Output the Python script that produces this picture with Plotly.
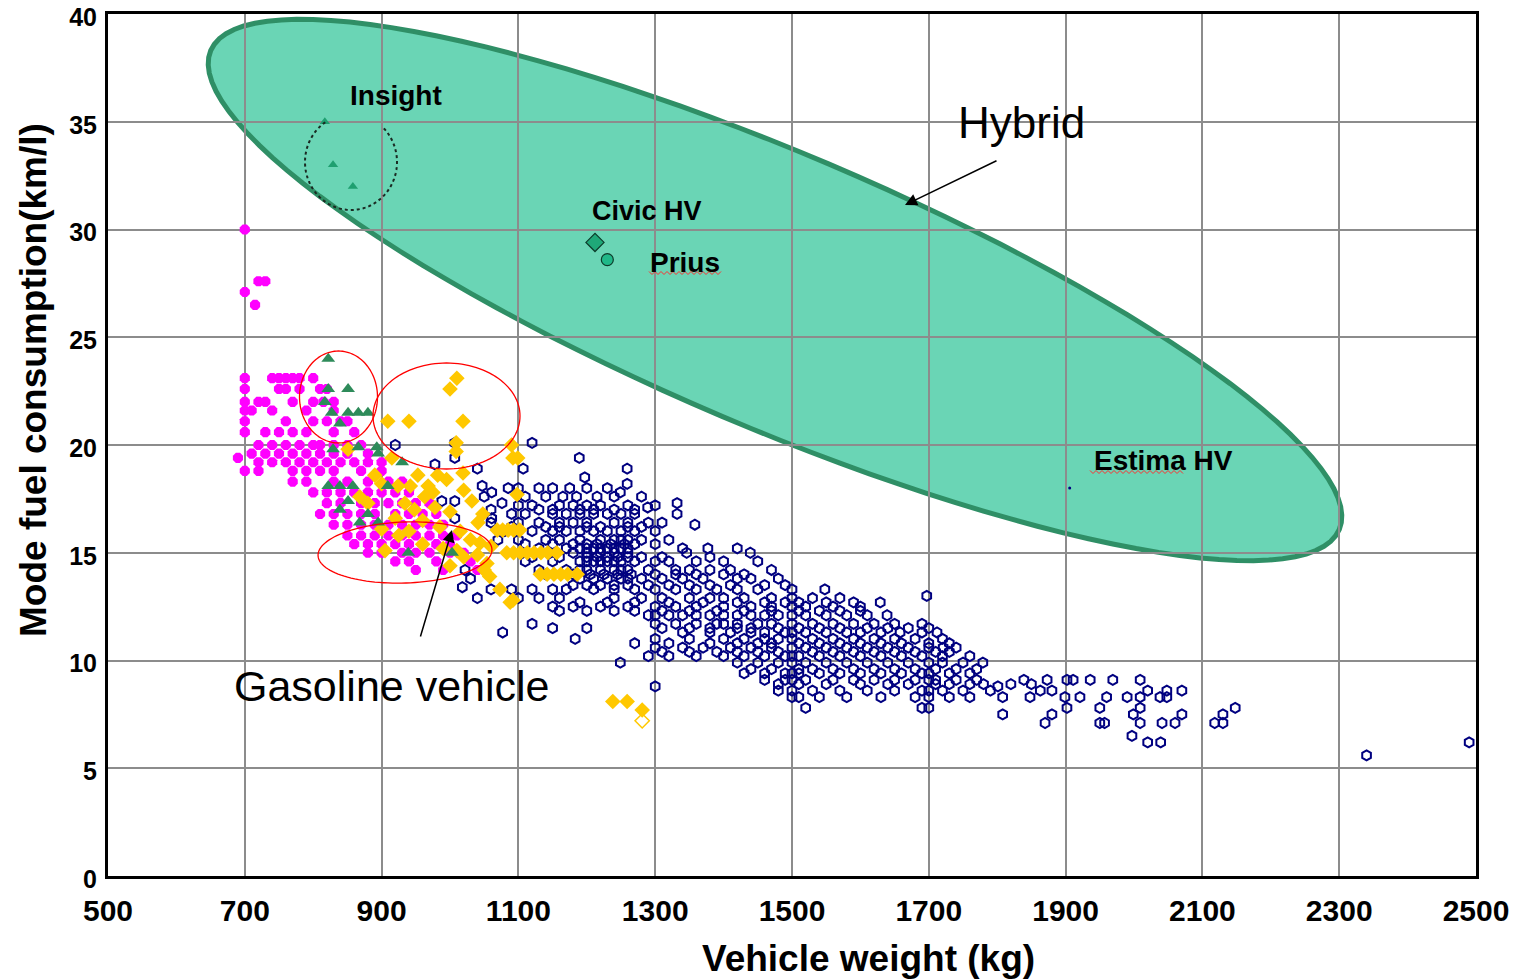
import math
import plotly.graph_objects as go

# ---------------- data (vehicle weight kg, mode fuel consumption km/l) ----------------
# Gasoline vehicles (navy open hexagons) as rows: (fuel, [weights])
blue_rows = [
    (20.0, [920]), (20.1, [1007, 1120]), (19.4, [1007, 1189]), (19.1, [978]),
    (18.9, [1040, 1107, 1259]), (18.5, [1197]), (18.2, [1259]), (18.1, [1047]),
    (18.0, [1085, 1100, 1130, 1150, 1175, 1200, 1230]),
    (17.8, [1061, 1249]), (17.4, [988, 1007]), (17.3, [1076, 1332]), (17.1, [1289]),
    (17.6, [1050, 1110, 1140, 1165, 1185, 1215, 1240, 1280]),
    (17.2, [1100, 1120, 1160, 1180, 1200, 1220, 1260, 1300]),
    (17.0, [1060, 1130, 1150, 1190, 1210, 1240, 1270]),
    (16.8, [1090, 1110, 1150, 1170, 1190, 1210, 1230, 1250, 1270, 1332]),
    (16.6, [1007, 1061]), (16.3, [1358]),
    (16.4, [1060, 1100, 1130, 1160, 1180, 1200, 1240, 1260, 1290, 1310]),
    (16.2, [1090, 1140, 1160, 1200, 1220, 1260, 1280]),
    (16.0, [1080, 1120, 1150, 1170, 1190, 1210, 1230, 1250, 1270, 1300]),
    (15.6, [1070, 1100, 1140, 1160, 1190, 1220, 1240, 1250, 1260, 1280, 1320]),
    (15.4, [1110, 1150, 1180, 1200, 1215, 1235, 1255, 1270, 1300]),
    (15.2, [1130, 1170, 1190, 1200, 1210, 1220, 1230, 1240, 1250, 1260, 1340, 1377, 1420]),
    (15.0, [1180, 1200, 1220, 1240, 1260, 1346, 1439]),
    (14.8, [1120, 1160, 1200, 1215, 1230, 1245, 1260, 1280, 1310, 1380]),
    (14.6, [1110, 1150, 1190, 1200, 1210, 1220, 1230, 1240, 1250, 1270, 1300, 1320, 1360, 1400, 1450]),
    (14.2, [1022, 1130, 1170, 1190, 1200, 1220, 1240, 1250, 1260, 1290, 1330, 1350, 1380, 1410, 1470]),
    (14.0, [1140, 1180, 1205, 1225, 1245, 1265, 1300, 1330, 1360, 1400, 1430]),
    (13.8, [1030, 1190, 1210, 1230, 1250, 1260, 1280, 1310, 1340, 1370, 1420, 1440, 1480]),
    (13.5, [1180, 1200, 1220, 1240, 1260, 1290, 1320, 1350, 1380, 1410, 1460, 1490]),
    (13.4, [1018]),
    (13.3, [1060, 1090, 1120, 1150, 1170, 1210, 1240, 1270, 1300, 1330, 1360, 1390, 1420, 1450, 1500, 1548]),
    (13.0, [1697]),
    (12.9, [1040, 1100, 1130, 1160, 1240, 1280, 1310, 1350, 1380, 1400, 1430, 1470, 1500, 1530, 1570]),
    (12.7, [1190, 1230, 1270, 1320, 1370, 1420, 1460, 1490, 1510, 1550, 1590, 1629]),
    (12.5, [1150, 1180, 1220, 1260, 1300, 1330, 1360, 1400, 1440, 1470, 1500, 1520, 1560, 1600]),
    (12.3, [1160, 1200, 1240, 1270, 1310, 1350, 1390, 1430, 1470, 1510, 1540, 1570, 1600]),
    (12.1, [1290, 1300, 1320, 1340, 1360, 1380, 1400, 1420, 1440, 1460, 1480, 1500, 1520, 1550, 1580, 1610, 1639]),
    (11.7, [1120, 1300, 1330, 1360, 1390, 1400, 1420, 1450, 1470, 1500, 1530, 1560, 1590, 1620, 1650, 1690]),
    (11.5, [1150, 1200, 1310, 1350, 1380, 1420, 1440, 1480, 1510, 1540, 1570, 1610, 1640, 1670, 1700]),
    (11.3, [1077, 1340, 1380, 1410, 1440, 1460, 1490, 1500, 1520, 1550, 1580, 1600, 1630, 1658, 1690, 1712]),
    (11.0, [1183, 1300, 1350, 1400, 1430, 1460, 1480, 1500, 1530, 1560, 1590, 1620, 1650, 1680, 1720]),
    (10.8, [1270, 1320, 1380, 1420, 1450, 1470, 1510, 1540, 1570, 1600, 1630, 1660, 1700, 1730]),
    (10.6, [1300, 1340, 1370, 1410, 1440, 1470, 1500, 1520, 1550, 1580, 1610, 1640, 1670, 1700, 1721, 1740]),
    (10.4, [1310, 1350, 1390, 1420, 1450, 1480, 1530, 1560, 1590, 1620, 1650, 1680, 1710, 1730]),
    (10.2, [1290, 1320, 1360, 1400, 1430, 1460, 1490, 1500, 1510, 1540, 1570, 1600, 1630, 1660, 1690, 1720, 1760]),
    (9.9, [1249, 1420, 1450, 1480, 1500, 1520, 1550, 1580, 1610, 1640, 1670, 1700, 1720, 1750, 1779]),
    (9.6, [1440, 1470, 1510, 1530, 1560, 1590, 1620, 1650, 1680, 1710, 1740, 1770]),
    (9.4, [1430, 1460, 1490, 1500, 1510, 1540, 1570, 1600, 1630, 1660, 1690, 1700, 1730, 1760]),
    (9.1, [1460, 1490, 1500, 1520, 1560, 1590, 1620, 1650, 1680, 1700, 1710, 1740, 1770, 1839, 1873,
           1902, 1911, 1936, 1969, 2009]),
    (8.9, [1480, 1510, 1550, 1600, 1640, 1670, 1710, 1730, 1760, 1780, 1820, 1850]),
    (8.8, [1300, 1801]),
    (8.6, [1480, 1500, 1530, 1570, 1610, 1650, 1690, 1700, 1720, 1750, 1790, 1863, 1880, 2020, 2048, 2070]),
    (8.3, [1500, 1510, 1540, 1580, 1630, 1680, 1700, 1730, 1760, 1808, 1848, 1899, 1921, 1960, 1990,
           2009, 2038, 2048]),
    (7.8, [1520, 1690, 1700, 1902, 1950, 2009, 2148]),
    (7.5, [1808, 1880, 1999, 2070, 2130]),
    (7.1, [1870, 1950, 1957, 2009, 2041, 2060, 2118, 2130]),
    (6.5, [1997]), (6.2, [2020, 2039, 2490]), (5.6, [2340]),
]

# Kei / light vehicles (magenta) as rows: (fuel, [weights])
magenta_rows = [
    (30.0, [700]), (27.6, [720, 730]), (27.1, [700]), (26.5, [715]),
    (23.1, [700, 740, 750, 760, 770, 780, 800]),
    (22.6, [700, 750, 760, 780, 810, 820]),
    (22.0, [700, 720, 730, 770, 800, 815, 830]),
    (21.6, [700, 710, 740, 790, 830]),
    (21.1, [700, 760, 800, 820, 840, 850]),
    (20.6, [700, 730, 750, 770, 790, 830, 860]),
    (20.0, [720, 740, 760, 780, 800, 810, 830, 850, 870]),
    (19.6, [710, 730, 750, 770, 790, 810, 830, 850, 880]),
    (19.4, [690]),
    (19.2, [720, 740, 760, 780, 800, 820, 840, 860, 880, 900]),
    (18.8, [700, 720, 770, 790, 810, 830, 870, 900]),
    (18.3, [770, 790, 830, 850, 880, 910, 930]),
    (17.8, [800, 820, 840, 860, 880, 900, 920, 940]),
    (17.3, [820, 840, 870, 890, 910, 930, 950, 970]),
    (16.8, [810, 830, 850, 870, 890, 920, 940, 960, 980]),
    (16.3, [830, 850, 870, 890, 910, 930, 950, 970, 990]),
    (15.8, [850, 870, 890, 910, 930, 950, 970, 990, 1010]),
    (15.4, [860, 880, 900, 920, 940, 960, 980, 1000]),
    (15.0, [880, 900, 930, 950, 970, 1000, 1020]),
    (14.6, [920, 940, 980, 1030]),
    (14.2, [950, 990, 1040]),
]

# Gasoline vehicles (gold diamonds)
gold_pts = [
    (1010, 23.1), (1000, 22.6), (909, 21.1), (940, 21.1), (1019, 21.1), (1009, 20.1), (1009, 19.7),
    (1090, 20.0), (1099, 19.4), (1092, 19.4), (851, 19.8), (915, 19.4), (890, 18.6), (953, 18.6),
    (982, 18.6), (1019, 18.7), (900, 18.2), (924, 18.1), (942, 18.1), (968, 18.1), (995, 18.4),
    (1020, 17.9), (1098, 17.7), (868, 17.6), (963, 17.6), (975, 17.8), (880, 17.3), (934, 17.3),
    (1032, 17.4), (978, 17.1), (948, 17.0), (1000, 16.9), (1048, 16.8), (920, 16.6), (960, 16.5),
    (1041, 16.4), (985, 16.2), (900, 16.1), (940, 16.0), (1015, 16.0), (925, 15.8), (1030, 15.6),
    (1044, 15.45), (960, 15.4), (1060, 15.3), (990, 15.2), (1010, 15.1), (905, 15.1), (1040, 14.9),
    (1020, 14.8), (1054, 14.5), (1000, 14.4), (1050, 14.2), (1058, 13.9), (1073, 13.3), (1092, 12.8),
    (1088, 12.7),
    (1069, 16.05), (1077, 16.05), (1085, 16.05), (1093, 16.05), (1102, 16.05),
    (1083, 15.0), (1093, 15.0), (1103, 15.0), (1113, 15.0), (1123, 15.0), (1133, 15.0), (1143, 15.0),
    (1156, 15.0),
    (1132, 14.0), (1142, 14.0), (1152, 14.0), (1162, 14.0), (1172, 14.0), (1186, 14.0),
    (1238, 8.1), (1259, 8.1), (1281, 7.7),
]
gold_open_pts = [(1281, 7.2)]

# Green triangles
green_pts = [
    (822, 24.0), (822, 22.6), (851, 22.6), (817, 22.0), (827, 21.5), (851, 21.5), (866, 21.5),
    (880, 21.5), (839, 21.0), (829, 19.8), (866, 19.9), (893, 19.9), (895, 19.6), (930, 19.2),
    (822, 18.1), (839, 18.1), (858, 18.1), (909, 18.1), (851, 17.4), (839, 17.0), (880, 16.8),
    (868, 16.4), (895, 16.4), (939, 15.0), (1003, 15.0),
]

# Hybrid vehicles
insight_pts = [(817, 35.0), (829, 33.0), (858, 32.0)]
civic_pt = [(1212, 29.4)]
prius_pt = [(1230, 28.6)]
estima_pt = [(1906, 18.0)]

# axes
x_range = [500, 2500]
y_range = [0, 40]
x_ticks = list(range(500, 2501, 200))
y_ticks = list(range(0, 41, 5))

# ---------------- layout geometry ----------------
# target plot area in page pixels (page has an 8px body margin)
W, H = 1540, 980
OFF = 8
PL, PT, PR, PB = 108, 14, 1476, 876
ML, MT = PL - OFF, PT - OFF
MR, MB = W - (PR - OFF), H - (PB - OFF)
PW, PH = PR - PL, PB - PT


def to_data(px, py):
    kx = x_range[0] + (px - PL) * (x_range[1] - x_range[0]) / PW
    ky = y_range[0] + (PB - py) * (y_range[1] - y_range[0]) / PH
    return kx, ky


def to_paper(px, py):
    return (px - PL) / PW, (PB - py) / PH


def ellipse_path(cx, cy, a, b, deg, t0=0.0, t1=360.0, n=120, close=True):
    th = math.radians(deg)
    pts = []
    for i in range(n + 1):
        t = math.radians(t0 + (t1 - t0) * i / n)
        ex = a * math.cos(t)
        ey = -b * math.sin(t)
        px = cx + ex * math.cos(th) - ey * math.sin(th)
        py = cy + ex * math.sin(th) + ey * math.cos(th)
        pts.append(to_data(px, py))
    s = "M " + " L ".join(f"{x:.3f},{y:.4f}" for x, y in pts)
    return s + (" Z" if close else "")


def squiggle_path(x0, x1, yc, step=3.0, amp=1.5):
    pts = []
    i = 0
    px = x0
    while px <= x1:
        pts.append(to_data(px, yc + (amp if i % 2 else -amp)))
        px += step
        i += 1
    return "M " + " L ".join(f"{x:.3f},{y:.4f}" for x, y in pts)


def expand(rows):
    xs, ys = [], []
    for f, ws in rows:
        for w in ws:
            xs.append(w)
            ys.append(f)
    return xs, ys


bx, by = expand(blue_rows)
mx, my = expand(magenta_rows)

fig = go.Figure()
fig.add_trace(go.Scatter(x=bx, y=by, mode="markers",
                         marker=dict(symbol="hexagon-open", size=10, color="#000080",
                                     line=dict(width=2, color="#000080"))))
fig.add_trace(go.Scatter(x=mx, y=my, mode="markers",
                         marker=dict(symbol="octagon", size=11, color="#ff00ff", line=dict(width=0))))
fig.add_trace(go.Scatter(x=[p[0] for p in gold_pts], y=[p[1] for p in gold_pts], mode="markers",
                         marker=dict(symbol="diamond", size=12, color="#ffc800", line=dict(width=0))))
fig.add_trace(go.Scatter(x=[p[0] for p in gold_open_pts], y=[p[1] for p in gold_open_pts], mode="markers",
                         marker=dict(symbol="diamond-open", size=11, color="#ffc800",
                                     line=dict(width=1.5, color="#ffc800"))))
fig.add_trace(go.Scatter(x=[p[0] for p in green_pts], y=[p[1] for p in green_pts], mode="markers",
                         marker=dict(symbol="triangle-up", size=12, color="#2e8b5a", line=dict(width=0))))
fig.add_trace(go.Scatter(x=[p[0] for p in insight_pts], y=[p[1] for p in insight_pts], mode="markers",
                         marker=dict(symbol="triangle-up", size=9, color="#1f9f70", line=dict(width=0))))
fig.add_trace(go.Scatter(x=[p[0] for p in civic_pt], y=[p[1] for p in civic_pt], mode="markers",
                         marker=dict(symbol="diamond", size=14, color="#1fa878",
                                     line=dict(width=1.2, color="#0d3b2a"))))
fig.add_trace(go.Scatter(x=[p[0] for p in prius_pt], y=[p[1] for p in prius_pt], mode="markers",
                         marker=dict(symbol="circle", size=12, color="#20b888",
                                     line=dict(width=1.2, color="#0d3b2a"))))
fig.add_trace(go.Scatter(x=[p[0] for p in estima_pt], y=[p[1] for p in estima_pt], mode="markers",
                         marker=dict(symbol="circle", size=3, color="#000080")))

shapes = [
    # Hybrid region
    dict(type="path", path=ellipse_path(775, 290, 613, 137, 23), layer="below",
         fillcolor="#6ad5b5", line=dict(color="#2f8f66", width=5)),
    # Insight dotted arc
    dict(type="path", path=ellipse_path(351, 162, 46, 48, 0, 124, 405, close=False), layer="above",
         line=dict(color="#1a2a22", width=2, dash="dot")),
    # red ellipses
    dict(type="path", path=ellipse_path(338.5, 397, 39, 46, 0), layer="above",
         line=dict(color="#ff0000", width=1.3)),
    dict(type="path", path=ellipse_path(446.5, 416, 73.5, 53, 0), layer="above",
         line=dict(color="#ff0000", width=1.3)),
    dict(type="path", path=ellipse_path(405, 552.5, 87, 30.5, -2), layer="above",
         line=dict(color="#ff0000", width=1.3)),
    # spell-check squiggles under labels
    dict(type="path", path=squiggle_path(649, 722, 273), layer="above",
         line=dict(color="#ff3030", width=1)),
    dict(type="path", path=squiggle_path(1090, 1184, 472), layer="above",
         line=dict(color="#ff3030", width=1)),
]

FAM = "Liberation Sans, Arial, sans-serif"
bold = dict(family=FAM, color="black", weight="bold")
reg = dict(family=FAM, color="black")


def lbl(text, x, y, size, weight_bold=True):
    f = dict(bold if weight_bold else reg)
    f["size"] = size
    return dict(x=x, y=y, xref="x", yref="y", text=text, showarrow=False, font=f,
                xanchor="center", yanchor="middle")


hx, hy = to_data(905, 205)
gx, gy = to_data(452, 530)
ytx, yty = to_paper(33, 380)
xtx, xty = to_paper(868, 959)
annotations = [
    lbl("Insight", *to_data(396, 95), 28),
    lbl("Civic HV", *to_data(647, 211), 27),
    lbl("Prius", *to_data(685, 262), 28),
    lbl("Estima HV", *to_data(1163, 460), 28),
    lbl("Hybrid", *to_data(1021, 122), 44, False),
    lbl("Gasoline vehicle", *to_data(392, 686), 43, False),
    dict(x=hx, y=hy, xref="x", yref="y", ax=93, ay=-45, text="", showarrow=True,
         arrowhead=2, arrowsize=1.6, arrowwidth=1.5, arrowcolor="black"),
    dict(x=gx, y=gy, xref="x", yref="y", ax=-32, ay=108, text="", showarrow=True,
         arrowhead=2, arrowsize=1.6, arrowwidth=1.5, arrowcolor="black"),
    # axis titles
    dict(x=ytx, y=yty, xref="paper", yref="paper", text="Mode fuel consumption(km/l)",
         showarrow=False, textangle=-90, font=dict(bold, size=37),
         xanchor="center", yanchor="middle"),
    dict(x=xtx, y=xty, xref="paper", yref="paper", text="Vehicle weight (kg)",
         showarrow=False, font=dict(bold, size=37), xanchor="center", yanchor="middle"),
]

fig.update_layout(
    width=W, height=H,
    margin=dict(l=ML, r=MR, t=MT, b=MB, pad=0),
    paper_bgcolor="white", plot_bgcolor="white",
    showlegend=False,
    shapes=shapes,
    annotations=annotations,
    xaxis=dict(range=x_range, tickvals=x_ticks, ticktext=[str(v) for v in x_ticks],
               showgrid=True, gridcolor="#8c8c8c", gridwidth=1.6, zeroline=False,
               showline=True, linecolor="black", linewidth=3, mirror=True, ticks="",
               tickfont=dict(bold, size=30), ticklabelstandoff=6, automargin=False,
               ticklabeloverflow="allow"),
    yaxis=dict(range=y_range, tickvals=y_ticks, ticktext=[str(v) for v in y_ticks],
               showgrid=True, gridcolor="#8c8c8c", gridwidth=1.6, zeroline=False,
               showline=True, linecolor="black", linewidth=3, mirror=True, ticks="",
               tickfont=dict(bold, size=25), ticklabelstandoff=3, ticklabelshift=3,
               automargin=False, ticklabeloverflow="allow"),
)

fig.write_html("out.html")
